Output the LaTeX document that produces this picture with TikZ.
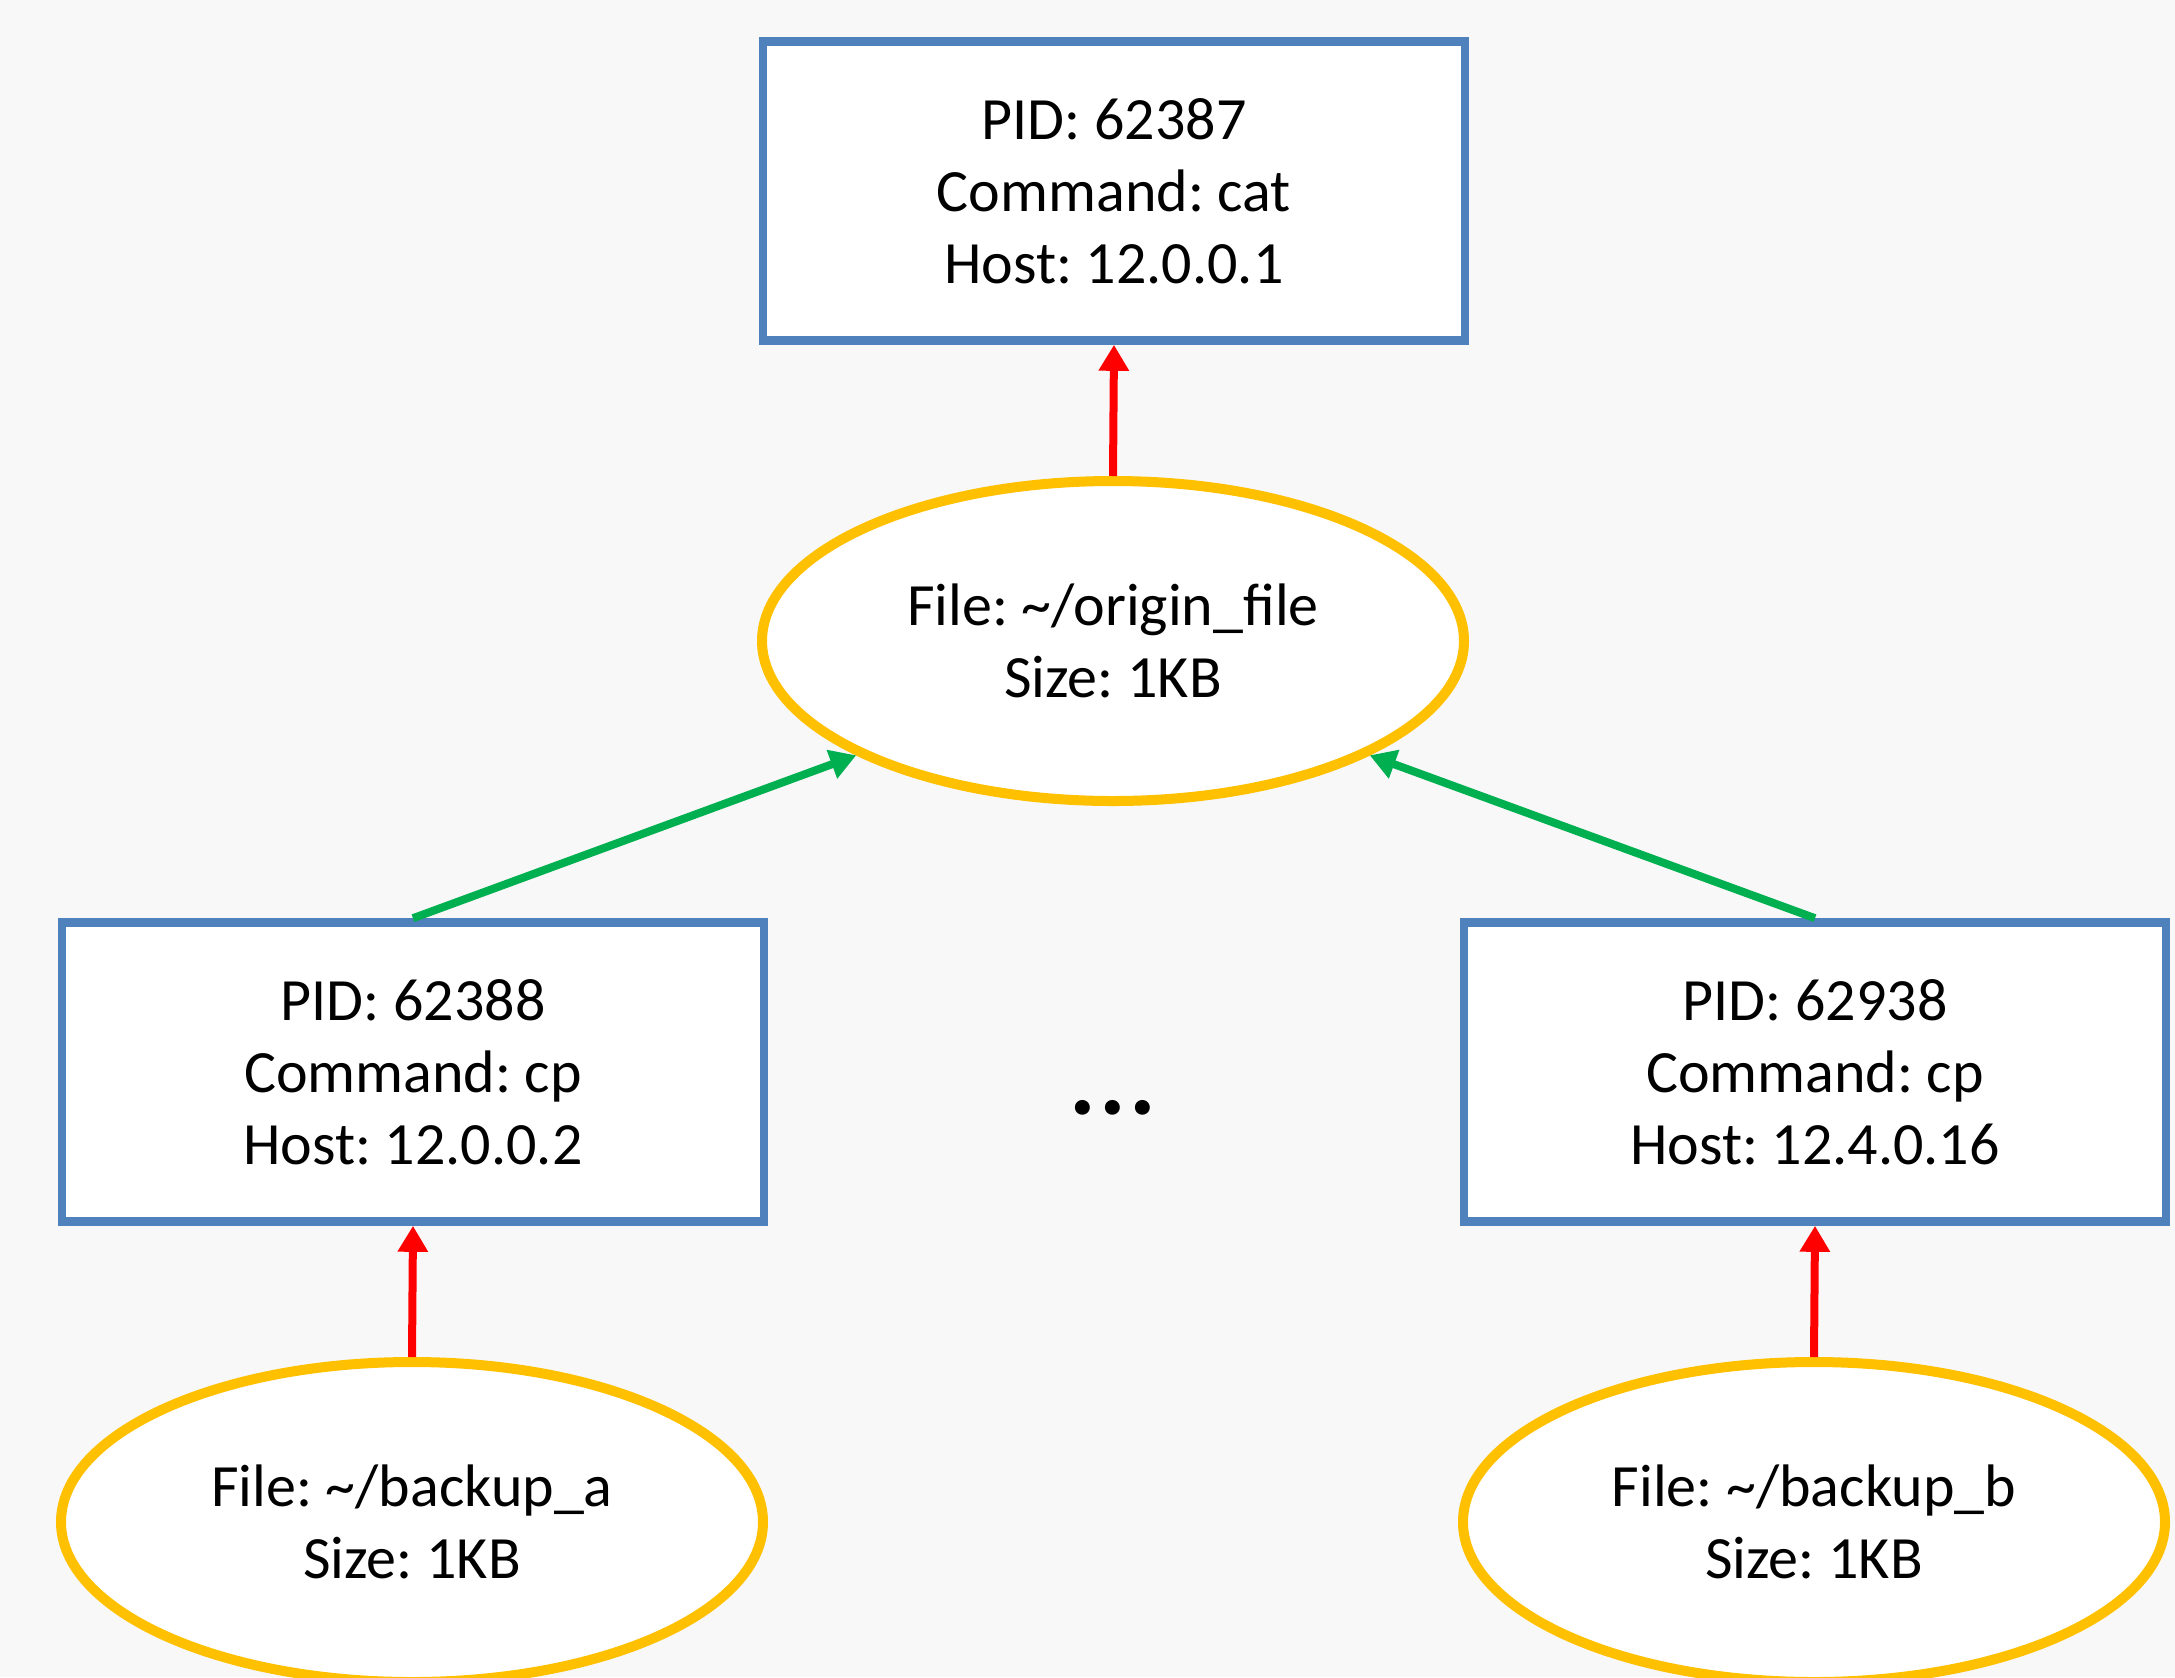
\documentclass[tikz,border=0pt]{standalone}
\usepackage{fontspec}
\setmainfont{Carlito}
\usetikzlibrary{shapes.geometric,arrows.meta}

\definecolor{bgc}{HTML}{F8F8F8}
\definecolor{procblue}{HTML}{4F81BD}
\definecolor{filegold}{HTML}{FFC000}
\definecolor{flowgreen}{HTML}{00B050}
\definecolor{flowred}{HTML}{FF0000}

\begin{document}
\frenchspacing
\begin{tikzpicture}[x=0.5pt,y=-0.5pt,
  labelfont/.style={font=\fontsize{30}{36}\selectfont},
  proc/.style={rectangle, draw=procblue, line width=4.3pt, fill=white,
    minimum width=351pt, minimum height=149.5pt, inner sep=0pt,
    align=center, labelfont},
  file/.style={ellipse, draw=filegold, line width=5pt, fill=white,
    minimum width=351pt, minimum height=160pt, inner sep=0pt,
    align=center, labelfont},
  used/.style={draw=flowred, line width=4pt,
    -{Triangle[length=13pt,width=14.5pt]}, color=flowred},
  wrote/.style={draw=flowgreen, line width=4pt,
    -{Triangle[length=13pt,width=14.5pt]}, color=flowgreen}]

% canvas
\fill[bgc] (0,0) rectangle (2175,1677);
\useasboundingbox (0,0) rectangle (2175,1677);

% processes
\node[proc] (cat) at (1114,191) {PID: 62387\\Command: cat\\Host: 12.0.0.1};
\node[proc] (cpa) at (413,1072) {PID: 62388\\Command: cp\\Host: 12.0.0.2};
\node[proc] (cpb) at (1815,1072) {PID: 62938\\Command: cp\\Host: 12.4.0.16};

% files
\node[file] (origin) at (1113,641) {File: \textasciitilde/origin\_file\\Size: 1KB};
\node[file] (bka) at (412,1522) {File: \textasciitilde/backup\_a\\Size: 1KB};
\node[file] (bkb) at (1814,1522) {File: \textasciitilde/backup\_b\\Size: 1KB};

% elided processes
\node[inner sep=0pt, font=\fontsize{50}{50}\selectfont\bfseries] (more) at (1113,1108) {.\kern1.8pt.\kern1.8pt.};

% flows
\draw[used] (origin.north) -- (cat.south);
\draw[used] (bka.north) -- (cpa.south);
\draw[used] (bkb.north) -- (cpb.south);
\draw[wrote] (cpa.north) -- (origin.204.7);
\draw[wrote] (cpb.north) -- (origin.-24.7);
\end{tikzpicture}
\end{document}
